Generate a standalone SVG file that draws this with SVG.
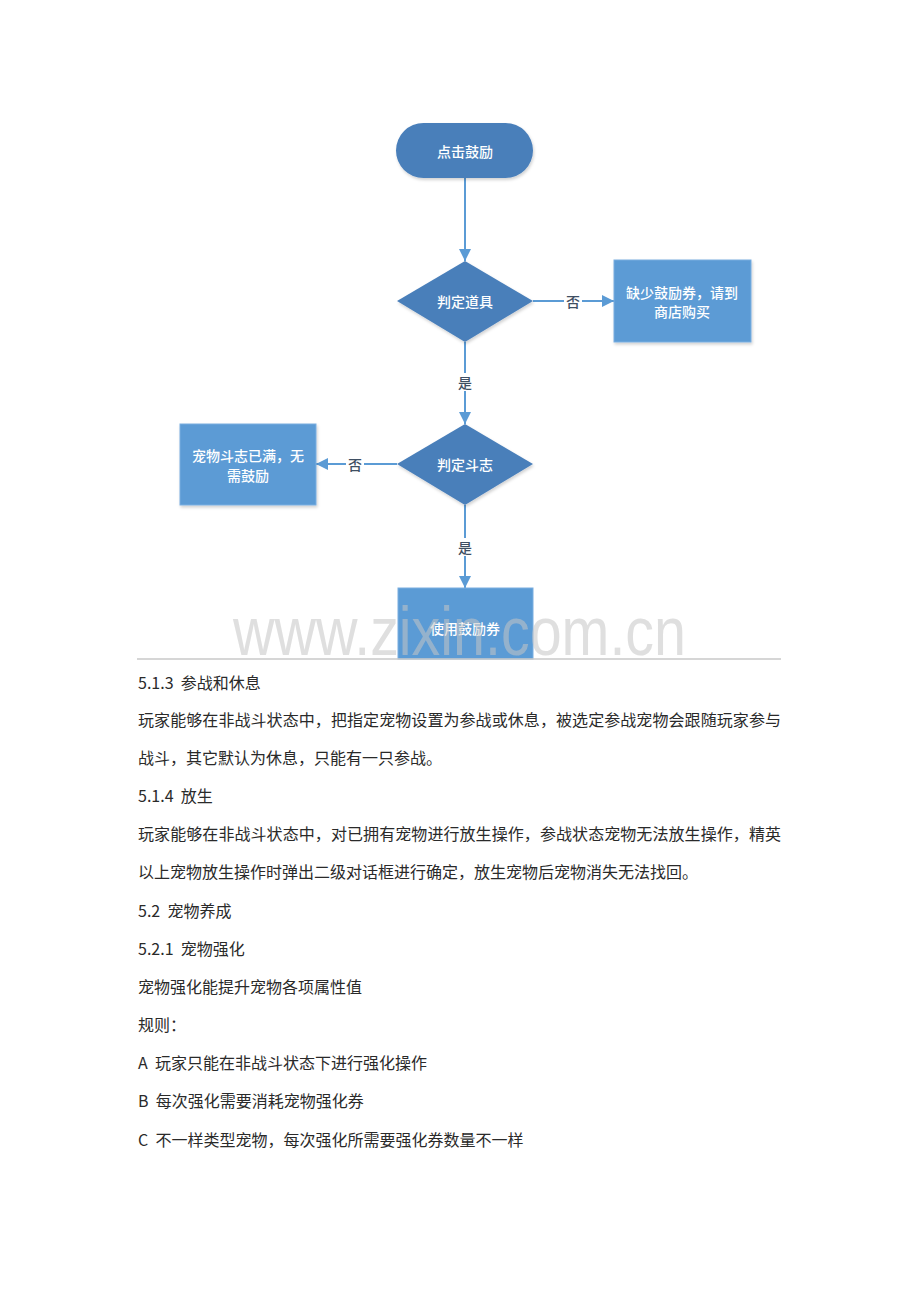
<svg xmlns="http://www.w3.org/2000/svg" width="920" height="1302" viewBox="0 0 920 1302">
<style>
.dark{fill:#4a7fba;}
.box{fill:#5b9bd5;stroke:#7aaee0;stroke-width:1;}
.nt{font-family:"Noto Sans CJK SC","Noto Sans",sans-serif;font-size:14px;fill:#ffffff;text-anchor:middle;dominant-baseline:central;font-weight:500;}
.con{stroke:#5b9bd5;stroke-width:2;fill:none;}
.lbl{font-family:"Noto Sans CJK SC","Noto Sans",sans-serif;font-size:14px;fill:#3f4f63;text-anchor:middle;dominant-baseline:central;font-weight:500;}
.body{font-family:"Noto Sans CJK SC","Liberation Sans",sans-serif;font-size:16px;fill:#2a2a2a;white-space:pre;}
</style>
<defs>
<marker id="ah" viewBox="0 0 10 10" refX="10" refY="5" markerWidth="6" markerHeight="6" orient="auto" markerUnits="strokeWidth">
<path d="M0,0 L10,5 L0,10 z" fill="#5b9bd5"/>
</marker>
<filter id="sh" x="-10%" y="-10%" width="130%" height="130%">
<feDropShadow dx="1" dy="2" stdDeviation="1.5" flood-color="#000" flood-opacity="0.18"/>
</filter>
</defs>
<rect width="920" height="1302" fill="#ffffff"/>

<g id="connectors">
<line class="con" x1="465" y1="178" x2="465" y2="261" marker-end="url(#ah)"/>
<line class="con" x1="533" y1="301" x2="614" y2="301" marker-end="url(#ah)"/>
<rect x="564" y="292" width="18" height="18" fill="#ffffff"/>
<text class="lbl" x="573" y="301">否</text>
<line class="con" x1="465" y1="342" x2="465" y2="424" marker-end="url(#ah)"/>
<rect x="456" y="373" width="18" height="18" fill="#ffffff"/>
<text class="lbl" x="465" y="382">是</text>
<line class="con" x1="397" y1="464" x2="316" y2="464" marker-end="url(#ah)"/>
<rect x="346" y="455" width="18" height="18" fill="#ffffff"/>
<text class="lbl" x="355" y="464">否</text>
<line class="con" x1="465" y1="505" x2="465" y2="588" marker-end="url(#ah)"/>
<rect x="456" y="538" width="18" height="18" fill="#ffffff"/>
<text class="lbl" x="465" y="547">是</text>
</g>

<g id="start">
<rect class="dark" x="396" y="123" width="137" height="55" rx="27.5" filter="url(#sh)"/>
<text class="nt" x="465" y="151">点击鼓励</text>
</g>
<g id="check-item">
<polygon class="dark" points="465,261 533,301 465,342 397,301" filter="url(#sh)"/>
<text class="nt" x="465" y="301">判定道具</text>
</g>
<g id="no-ticket">
<rect class="box" x="614" y="260" width="137" height="82" filter="url(#sh)"/>
<text class="nt" x="682" y="292">缺少鼓励券，请到</text>
<text class="nt" x="682" y="311">商店购买</text>
</g>
<g id="check-morale">
<polygon class="dark" points="465,424 533,464 465,505 397,464" filter="url(#sh)"/>
<text class="nt" x="465" y="464">判定斗志</text>
</g>
<g id="full-morale">
<rect class="box" x="180" y="424" width="136" height="81" filter="url(#sh)"/>
<text class="nt" x="248" y="455">宠物斗志已满，无</text>
<text class="nt" x="248" y="475">需鼓励</text>
</g>
<g id="use-ticket">
<rect class="box" x="398" y="588" width="135" height="71"/>
<text class="nt" x="465" y="628">使用鼓励券</text>
</g>

<text x="233" y="655" font-family="Liberation Sans, sans-serif" font-size="68" fill="#c4c4c4" fill-opacity="0.55" textLength="453" lengthAdjust="spacingAndGlyphs">www.zixin.com.cn</text>

<line x1="137" y1="659" x2="781" y2="659" stroke="#c8c8c8" stroke-width="1.5"/>

<g id="text">
<text class="body" x="138" y="689">5.1.3  参战和休息</text>
<text class="body" x="138" y="726" textLength="643" lengthAdjust="spacing">玩家能够在非战斗状态中，把指定宠物设置为参战或休息，被选定参战宠物会跟随玩家参与</text>
<text class="body" x="138" y="764">战斗，其它默认为休息，只能有一只参战。</text>
<text class="body" x="138" y="802">5.1.4  放生</text>
<text class="body" x="138" y="840" textLength="643" lengthAdjust="spacing">玩家能够在非战斗状态中，对已拥有宠物进行放生操作，参战状态宠物无法放生操作，精英</text>
<text class="body" x="138" y="878">以上宠物放生操作时弹出二级对话框进行确定，放生宠物后宠物消失无法找回。</text>
<text class="body" x="138" y="917">5.2  宠物养成</text>
<text class="body" x="138" y="955">5.2.1  宠物强化</text>
<text class="body" x="138" y="993">宠物强化能提升宠物各项属性值</text>
<text class="body" x="138" y="1031">规则：</text>
<text class="body" x="138" y="1069">A  玩家只能在非战斗状态下进行强化操作</text>
<text class="body" x="138" y="1107">B  每次强化需要消耗宠物强化券</text>
<text class="body" x="138" y="1146">C  不一样类型宠物，每次强化所需要强化券数量不一样</text>
</g>
</svg>
